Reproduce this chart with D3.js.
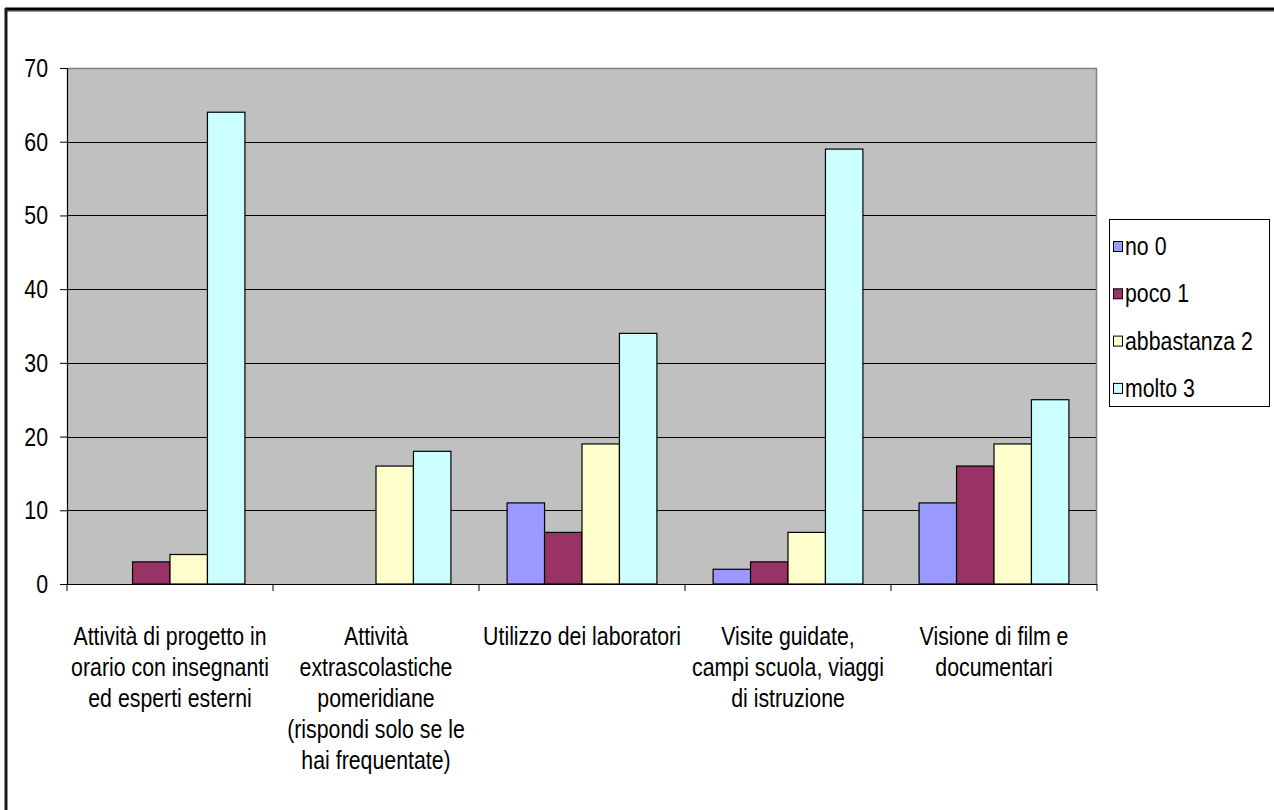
<!DOCTYPE html>
<html>
<head>
<meta charset="utf-8">
<script src="https://cdn.jsdelivr.net/npm/d3@7/dist/d3.min.js"></script>
<style>
  html, body { margin: 0; padding: 0; background: #fff; }
  svg { display: block; }
  text { font-family: "Liberation Sans", Arial, sans-serif; fill: #000; }
</style>
</head>
<body>
<svg id="chart" width="1274" height="810"></svg>
<script>
// Survey answers per activity
const categories = [
  ["Attività di progetto in", "orario con insegnanti", "ed esperti esterni"],
  ["Attività", "extrascolastiche", "pomeridiane", "(rispondi solo se le", "hai frequentate)"],
  ["Utilizzo dei laboratori"],
  ["Visite guidate,", "campi scuola, viaggi", "di istruzione"],
  ["Visione di film e", "documentari"]
];
const seriesNames = ["no 0", "poco 1", "abbastanza 2", "molto 3"];
const seriesColors = ["#9999FF", "#993366", "#FFFFCC", "#CCFFFF"];
const no0 = [0, 0, 11, 2, 11];
const poco1 = [3, 0, 7, 3, 16];
const abbastanza2 = [4, 16, 19, 7, 19];
const molto3 = [64, 18, 34, 59, 25];
const seriesValues = [no0, poco1, abbastanza2, molto3];
const yTicks = [0, 10, 20, 30, 40, 50, 60, 70];

// condensed lettering: regular sans squeezed horizontally
const FONT_SIZE = 26;
const SQUEEZE = 0.82;

const svg = d3.select("#chart");

// outer frame (top and left edges)
svg.append("line").attr("x1", 6).attr("x2", 1274).attr("y1", 11).attr("y2", 11)
  .attr("stroke", "#999").attr("stroke-width", 2);
svg.append("line").attr("x1", 5).attr("x2", 1274).attr("y1", 9).attr("y2", 9)
  .attr("stroke", "#000").attr("stroke-width", 3);
svg.append("line").attr("x1", 6).attr("x2", 6).attr("y1", 8).attr("y2", 810)
  .attr("stroke", "#1a1a1a").attr("stroke-width", 3);

const plot = { left: 67, top: 68, right: 1097, bottom: 584 };

const x0 = d3.scaleBand().domain(d3.range(categories.length))
  .range([plot.left, plot.right]).paddingInner(0).paddingOuter(0);
const x1 = d3.scaleBand().domain(d3.range(seriesNames.length))
  .range([0, x0.bandwidth()]).paddingInner(0).paddingOuter(0.75);
const y = d3.scaleLinear().domain([0, 70]).range([plot.bottom, plot.top]);

// plot area background
svg.append("rect")
  .attr("x", plot.left).attr("y", plot.top)
  .attr("width", plot.right - plot.left).attr("height", plot.bottom - plot.top)
  .attr("fill", "#C0C0C0");

// gridlines
svg.append("g").selectAll("line").data(yTicks.filter(d => d > 0 && d < 70)).join("line")
  .attr("x1", plot.left).attr("x2", plot.right)
  .attr("y1", d => Math.round(y(d)) + 0.5).attr("y2", d => Math.round(y(d)) + 0.5)
  .attr("stroke", "#000").attr("stroke-width", 1);

// top and right edges of the plot area
svg.append("path")
  .attr("d", `M${plot.left},${plot.top + 0.5}H${plot.right - 0.5}V${plot.bottom}`)
  .attr("fill", "none").attr("stroke", "#808080").attr("stroke-width", 1.5);

// bars
const groups = svg.append("g").selectAll("g").data(categories).join("g")
  .attr("transform", (d, i) => `translate(${x0(i)},0)`);
groups.selectAll("rect")
  .data((d, i) => seriesValues.map((vals, s) => ({ s, v: vals[i] })))
  .join("rect")
  .filter(d => d.v > 0)
  .attr("x", d => x1(d.s))
  .attr("y", d => y(d.v))
  .attr("width", x1.bandwidth())
  .attr("height", d => y(0) - y(d.v))
  .attr("fill", d => seriesColors[d.s])
  .attr("stroke", "#000").attr("stroke-width", 1.2);

// y axis
const yAxis = d3.axisLeft(y).tickValues(yTicks).tickSize(7).tickFormat("");
const gy = svg.append("g").attr("transform", `translate(${plot.left},0)`).call(yAxis);
gy.select(".domain").attr("stroke", "#000").attr("stroke-width", 1.2);
gy.selectAll(".tick line").attr("stroke", "#000");
svg.append("g").selectAll("text").data(yTicks).join("text")
  .attr("transform", d => `translate(48,${y(d) + 9}) scale(${SQUEEZE},1)`)
  .attr("text-anchor", "end")
  .attr("font-size", FONT_SIZE)
  .text(d => d);

// x axis with ticks at group boundaries
const gx = svg.append("g");
gx.append("line").attr("x1", plot.left).attr("x2", plot.right)
  .attr("y1", plot.bottom + 0.5).attr("y2", plot.bottom + 0.5)
  .attr("stroke", "#000").attr("stroke-width", 1.2);
const bounds = d3.range(categories.length + 1).map(i => plot.left + i * x0.bandwidth());
gx.selectAll("line.tk").data(bounds).join("line").attr("class", "tk")
  .attr("x1", d => d).attr("x2", d => d)
  .attr("y1", plot.bottom).attr("y2", plot.bottom + 7)
  .attr("stroke", "#000");

// category labels
const labels = svg.append("g").selectAll("text").data(categories).join("text")
  .attr("text-anchor", "middle")
  .attr("font-size", FONT_SIZE)
  .attr("transform", (d, i) => `translate(${x0(i) + x0.bandwidth() / 2},645) scale(${SQUEEZE},1)`);
labels.selectAll("tspan").data(d => d).join("tspan")
  .attr("x", 0).attr("dy", (d, i) => i === 0 ? 0 : 31)
  .text(d => d);

// legend
const legend = svg.append("g");
legend.append("rect").attr("x", 1109.5).attr("y", 219.5).attr("width", 160).attr("height", 187)
  .attr("fill", "#fff").attr("stroke", "#000").attr("stroke-width", 1);
const items = legend.selectAll("g").data(seriesNames).join("g")
  .attr("transform", (d, i) => `translate(1113,${246 + i * 47.3})`);
items.append("rect").attr("x", 0.5).attr("y", -4.5).attr("width", 9).attr("height", 10)
  .attr("fill", (d, i) => seriesColors[i]).attr("stroke", "#000").attr("stroke-width", 1);
items.append("text")
  .attr("transform", `translate(12,9) scale(${SQUEEZE},1)`)
  .attr("font-size", FONT_SIZE).text(d => d);
</script>
</body>
</html>
